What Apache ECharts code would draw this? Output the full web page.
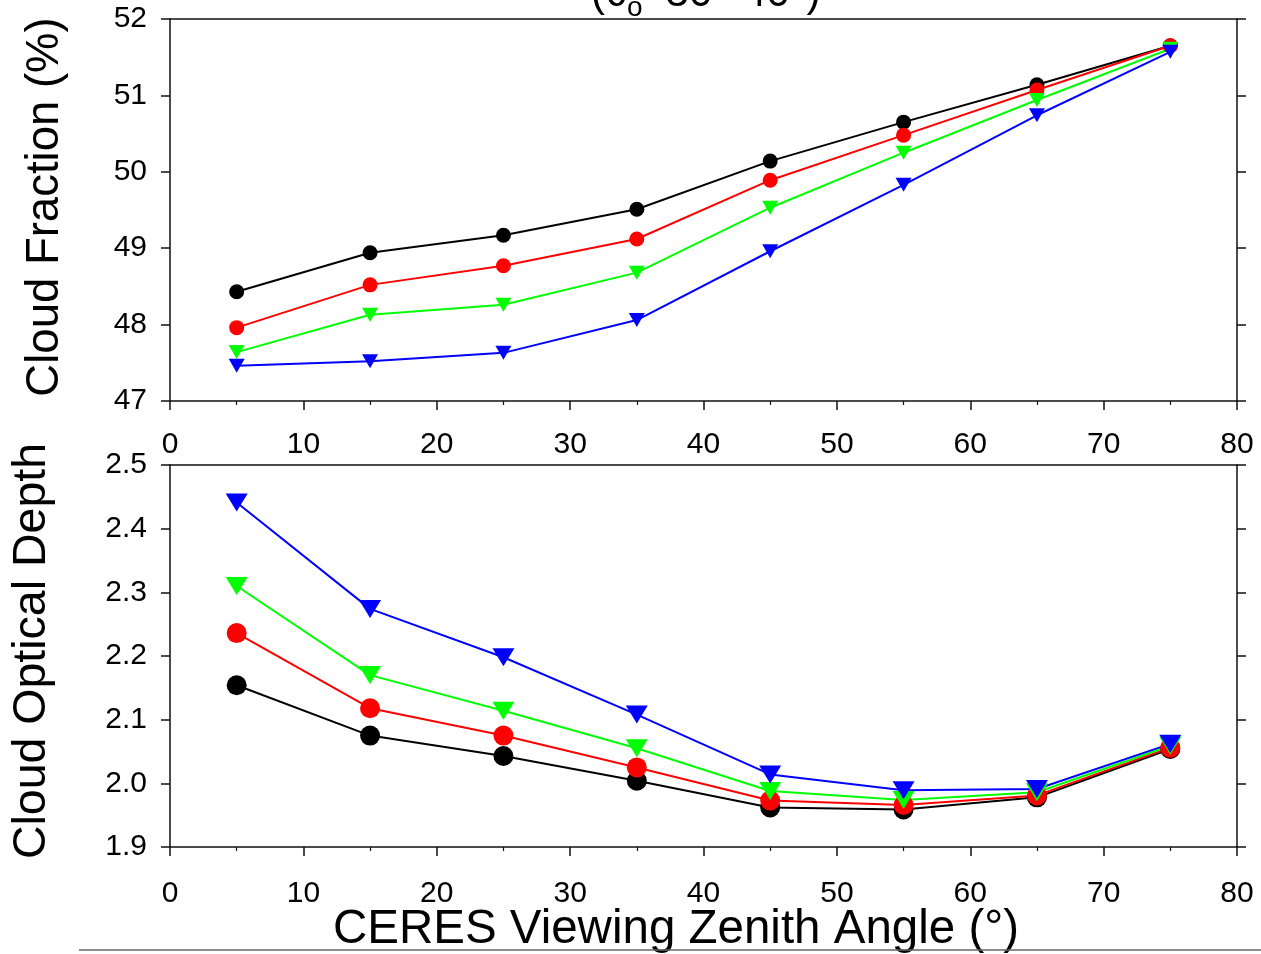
<!DOCTYPE html>
<html>
<head>
<meta charset="utf-8">
<script src="https://cdn.jsdelivr.net/npm/echarts@6/dist/echarts.min.js"></script>
<style>
  html, body { margin: 0; padding: 0; background: #fff; }
  #chart { width: 1261px; height: 954px; }
</style>
</head>
<body>
<div id="chart"></div>
<script>
// Viewing zenith angle bin centres (degrees)
const angles = [5, 15, 25, 35, 45, 55, 65, 75];

// Cloud fraction (%) per angle bin
const cfBlack = [48.43, 48.94, 49.17, 49.51, 50.14, 50.65, 51.14, 51.65];
const cfRed   = [47.96, 48.52, 48.77, 49.12, 49.89, 50.48, 51.07, 51.65];
const cfGreen = [47.64, 48.13, 48.26, 48.68, 49.53, 50.25, 50.94, 51.61];
const cfBlue  = [47.46, 47.52, 47.63, 48.06, 48.96, 49.83, 50.74, 51.57];

// Cloud optical depth per angle bin
const odBlack = [2.154, 2.075, 2.043, 2.004, 1.962, 1.959, 1.978, 2.054];
const odRed   = [2.236, 2.118, 2.075, 2.025, 1.973, 1.966, 1.981, 2.056];
const odGreen = [2.310, 2.170, 2.114, 2.055, 1.988, 1.974, 1.986, 2.059];
const odBlue  = [2.441, 2.274, 2.198, 2.108, 2.014, 1.989, 1.991, 2.062];

// Axis ranges
const xRange = { min: 0, max: 80, interval: 10 };
const cfRange = { min: 47, max: 52, interval: 1 };
const odRange = { min: 1.9, max: 2.5, interval: 0.1 };

const FONT = 'Liberation Sans, Arial, sans-serif';
const AXIS_COLOR = '#111';
const TICK_FONT = 30;
const chart = echarts.init(document.getElementById('chart'), null, { renderer: 'canvas' });

const gridTop = { left: 170, top: 19, width: 1067, height: 382 };
const gridBot = { left: 170, top: 465, width: 1067, height: 382 };

const lineStyle = { color: AXIS_COLOR, width: 1.5 };

function xAxes(gridIndex, labelMargin) {
  return [
    {
      gridIndex, type: 'value', position: 'bottom',
      min: xRange.min, max: xRange.max, interval: xRange.interval,
      axisLine: { show: true, onZero: false, lineStyle },
      axisTick: { show: true, inside: false, length: 9, lineStyle },
      minorTick: { show: true, splitNumber: 2, length: 4, lineStyle: { color: AXIS_COLOR, width: 1.2 } },
      splitLine: { show: false },
      axisLabel: { show: true, margin: labelMargin, fontSize: TICK_FONT, color: '#000', fontFamily: FONT }
    },
    {
      gridIndex, type: 'value', position: 'top',
      min: xRange.min, max: xRange.max, interval: xRange.interval,
      axisLine: { show: true, onZero: false, lineStyle },
      axisTick: { show: false },
      splitLine: { show: false },
      axisLabel: { show: false }
    }
  ];
}

function yAxes(gridIndex, range, digits) {
  return [
    {
      gridIndex, type: 'value', position: 'left',
      min: range.min, max: range.max, interval: range.interval,
      axisLine: { show: true, onZero: false, lineStyle },
      axisTick: { show: true, inside: false, length: 9, lineStyle },
      splitLine: { show: false },
      axisLabel: {
        show: true, margin: 23, fontSize: TICK_FONT, color: '#000', fontFamily: FONT,
        formatter: v => Number(v).toFixed(digits)
      }
    },
    {
      gridIndex, type: 'value', position: 'right',
      min: range.min, max: range.max, interval: range.interval,
      axisLine: { show: true, onZero: false, lineStyle },
      axisTick: { show: true, inside: false, length: 9, lineStyle },
      splitLine: { show: false },
      axisLabel: { show: false }
    }
  ];
}

function pairs(values) {
  return angles.map((a, i) => [a, values[i]]);
}

function makeSeries(name, values, color, symbol, size, xi, yi) {
  const isTri = symbol === 'triangle';
  return {
    name, type: 'line', xAxisIndex: xi, yAxisIndex: yi,
    data: pairs(values),
    symbol,
    symbolSize: size,
    symbolRotate: isTri ? 180 : 0,
    showSymbol: true,
    lineStyle: { color, width: 2 },
    itemStyle: { color, borderWidth: 0 },
    emphasis: { disabled: true },
    animation: false
  };
}

const circTop = 15, triTop = [16, 14];
const circBot = 20, triBot = [22, 18];

const option = {
  backgroundColor: '#fff',
  animation: false,
  grid: [gridTop, gridBot],
  xAxis: [...xAxes(0, 29), ...xAxes(1, 32)],
  yAxis: [...yAxes(0, cfRange, 0), ...yAxes(1, odRange, 1)],
  series: [
    makeSeries('black', cfBlack, '#000000', 'circle', circTop, 0, 0),
    makeSeries('red', cfRed, '#ff0000', 'circle', circTop, 0, 0),
    makeSeries('green', cfGreen, '#00ff00', 'triangle', triTop, 0, 0),
    makeSeries('blue', cfBlue, '#0000ff', 'triangle', triTop, 0, 0),
    makeSeries('black', odBlack, '#000000', 'circle', circBot, 2, 2),
    makeSeries('red', odRed, '#ff0000', 'circle', circBot, 2, 2),
    makeSeries('green', odGreen, '#00ff00', 'triangle', triBot, 2, 2),
    makeSeries('blue', odBlue, '#0000ff', 'triangle', triBot, 2, 2)
  ],
  graphic: [
    // Panel title (solar zenith range), partly above the top edge
    { type: 'text', x: 591, y: -6, style: { text: '(θ', font: '42px ' + FONT, fill: '#000', textAlign: 'left', textVerticalAlign: 'middle' } },
    { type: 'text', x: 627, y: 8, style: { text: 'o', font: '28px ' + FONT, fill: '#000', textAlign: 'left', textVerticalAlign: 'middle' } },
    { type: 'text', x: 641, y: -6, style: { text: '=30°-40°)', font: '42px ' + FONT, fill: '#000', textAlign: 'left', textVerticalAlign: 'middle' } },
    // Y axis titles
    { type: 'text', x: 45, y: 207, rotation: Math.PI / 2, style: { text: 'Cloud Fraction (%)', font: '45.5px ' + FONT, fill: '#000', textAlign: 'center', textVerticalAlign: 'middle' } },
    { type: 'text', x: 32, y: 651, rotation: Math.PI / 2, style: { text: 'Cloud Optical Depth', font: '46.5px ' + FONT, fill: '#000', textAlign: 'center', textVerticalAlign: 'middle' } },
    // X axis title
    { type: 'text', x: 676, y: 930, style: { text: 'CERES Viewing Zenith Angle (°)', font: '47.5px ' + FONT, fill: '#000', textAlign: 'center', textVerticalAlign: 'middle' } },
    // Rule along the bottom edge
    { type: 'line', shape: { x1: 79, y1: 950, x2: 1261, y2: 950 }, style: { stroke: '#666', lineWidth: 1.5 } }
  ]
};

chart.setOption(option);
</script>
</body>
</html>
